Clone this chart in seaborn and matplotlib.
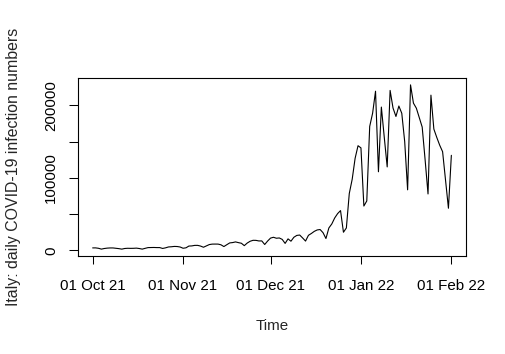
import numpy as np
import pandas as pd
import matplotlib
matplotlib.use("Agg")
import matplotlib.pyplot as plt
import matplotlib.dates as mdates
import seaborn as sns

# ---- data ----
start_date = "2021-10-01"
end_date = "2022-02-01"
cases_oct = [3286, 3312, 2766, 1612, 2466, 2985, 3231, 3220, 2748, 2278,
             1597, 2494, 2769, 2668, 2732, 2983, 2437, 1597, 2697, 3702,
             3794, 3882, 3725, 3725, 2535, 3380, 4598, 4866, 5335, 5192, 4526]
cases_nov = [2818, 3405, 5845, 6032, 6764, 6793, 5821, 4197, 6043, 7891,
             8516, 8569, 8544, 7569, 5144, 7698, 10172, 10638, 11555, 10544,
             9709, 6404, 9970, 12448, 13764, 13686, 12877, 12932, 7975, 12764]
cases_dec = [16806, 17959, 16632, 17010, 15021, 9503, 15756, 12527, 17959, 20497,
             21042, 17000, 12712, 20677, 23195, 26109, 28064, 28632, 24259, 16213,
             30798, 36293, 44595, 50599, 54762, 24883, 30810, 78313, 98020, 126888,
             144243]
cases_jan = [141262, 61046, 68052, 170844, 189109, 219441, 108304, 197552, 155659, 115000,
             220532, 196224, 184615, 199000, 189000, 150000, 83403, 228179, 203000, 196000,
             183000, 170000, 125000, 77696, 214000, 167206, 155697, 145000, 136000, 97000,
             58000]
cases_feb = [131000]

tick_dates = ["2021-10-01", "2021-11-01", "2021-12-01", "2022-01-01", "2022-02-01"]
y_ticks = [0, 50000, 100000, 150000, 200000]
y_tick_labels = ["0", "", "100000", "", "200000"]
x_title = "Time"
y_title = "Italy: daily COVID-19 infection numbers"

dates = pd.date_range(start_date, end_date, freq="D")
values = cases_oct + cases_nov + cases_dec + cases_jan + cases_feb
df = pd.DataFrame({"date": dates, "cases": values})

# ---- style ----
sns.set_style("white")
plt.rcParams["font.family"] = ["Liberation Sans", "DejaVu Sans"]

W, H = 506, 354
fig = plt.figure(figsize=(W / 100, H / 100), dpi=100)
left, right, top, bottom = 78.3, 465.7, 78.3, 255.7
ax = fig.add_axes([left / W, 1 - bottom / H, (right - left) / W, (bottom - top) / H])

sns.lineplot(data=df, x="date", y="cases", ax=ax, color="black", linewidth=0.8)

# R-style 4% axis extension
d0 = mdates.date2num(dates[0]); d1 = mdates.date2num(dates[-1])
span = d1 - d0
ax.set_xlim(d0 - 0.04 * span, d1 + 0.04 * span)
ymin, ymax = min(values), max(values)
yspan = ymax - ymin
ax.set_ylim(ymin - 0.04 * yspan, ymax + 0.04 * yspan)

fs = 10.9
ax.set_xticks(mdates.date2num(pd.to_datetime(tick_dates)))
ax.xaxis.set_major_formatter(mdates.DateFormatter("%d %b %y"))
ax.set_yticks(y_ticks)
ax.set_yticklabels(y_tick_labels)
for lab in ax.get_yticklabels():
    lab.set_rotation(90)
    lab.set_va("center")
    lab.set_ha("right")

ax.tick_params(axis="x", direction="out", length=6.1, width=0.75, pad=11.0,
               labelsize=fs, colors="black", bottom=True)
ax.tick_params(axis="y", direction="out", length=6.5, width=0.75, pad=8.0,
               labelsize=fs, colors="black", left=True)

for s in ax.spines.values():
    s.set_visible(True)
    s.set_color("black")
    s.set_linewidth(0.8)

ax.set_xlabel(x_title, fontsize=fs, va="baseline")
ax.set_ylabel(y_title, fontsize=11.4, va="baseline")
ax.xaxis.set_label_coords(0.5, (bottom - 330) / (bottom - top))
ax.yaxis.set_label_coords((18 - left) / (right - left), 0.5)

ax.grid(False)
ax.set_facecolor("white")
fig.patch.set_facecolor("white")
fig.savefig("out.png", dpi=100, facecolor="white")
